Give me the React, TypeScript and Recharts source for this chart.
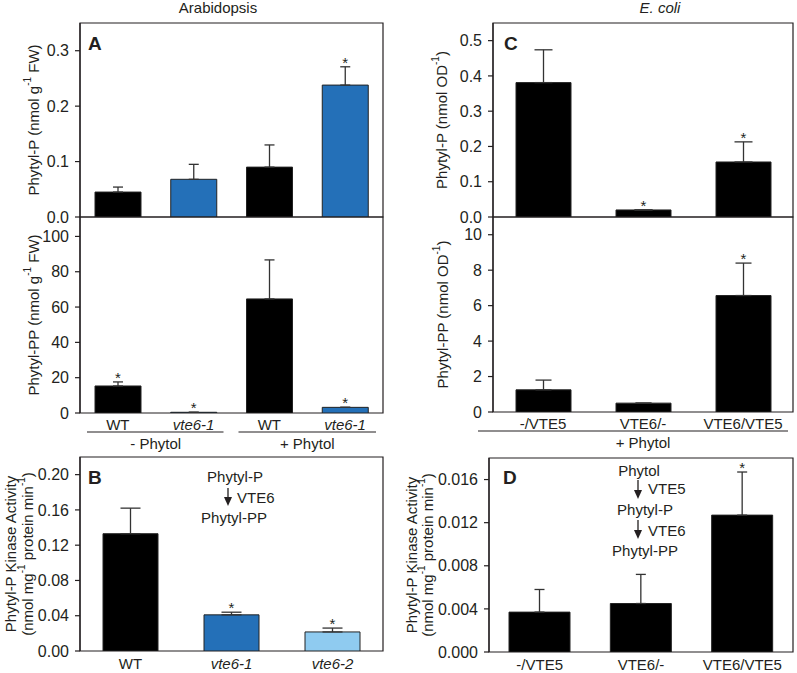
import React from 'react';
import { BarChart, Bar, XAxis, YAxis, ErrorBar, Cell, LabelList, ReferenceArea } from 'recharts';

const FONT = '"Liberation Sans", Arial, sans-serif';
const INK = '#231f20';
const BLACK = '#000000';
const BLUE = '#2470b8';
const LIGHT = '#8fcbf0';

// A: Arabidopsis leaves, with / without phytol feeding
const aCats = ['WT', 'vte6-1', 'WT', 'vte6-1'];
const aItalic = [false, true, false, true];
const aColors = [BLACK, BLUE, BLACK, BLUE];
const aPhytylP = [0.045, 0.068, 0.09, 0.238];
const aPhytylPErr = [0.009, 0.027, 0.04, 0.033];
const aPhytylPSig = [false, false, false, true];
const aPhytylPP = [15.3, 0.4, 64.6, 3.2];
const aPhytylPPErr = [2.3, 0, 22.1, 0];
const aPhytylPPSig = [true, true, false, true];

// B: kinase activity in Arabidopsis
const bCats = ['WT', 'vte6-1', 'vte6-2'];
const bItalic = [false, true, true];
const bColors = [BLACK, BLUE, LIGHT];
const bActivity = [0.133, 0.041, 0.0216];
const bActivityErr = [0.029, 0.003, 0.0044];
const bActivitySig = [false, true, true];

// C: E. coli strains fed phytol
const cCats = ['-/VTE5', 'VTE6/-', 'VTE6/VTE5'];
const cColors = [BLACK, BLACK, BLACK];
const cPhytylP = [0.381, 0.02, 0.156];
const cPhytylPErr = [0.093, 0, 0.057];
const cPhytylPSig = [false, true, true];
const cPhytylPP = [1.25, 0.5, 6.57];
const cPhytylPPErr = [0.55, 0, 1.83];
const cPhytylPPSig = [false, false, true];

// D: kinase activity in E. coli extracts
const dActivity = [0.0037, 0.0045, 0.0127];
const dActivityErr = [0.0021, 0.0027, 0.004];
const dActivitySig = [false, false, true];

type Row = { name: string; value: number; err: number[]; sig: boolean };
type Seg = { t: string; sup?: boolean };
type Group = { label: string; start: number; span: number; pad: [number, number] };

const makeRows = (cats: string[], vals: number[], errs: number[], sig: boolean[]): Row[] =>
  cats.map((name, i) => ({ name, value: vals[i], err: [0, errs[i]], sig: sig[i] }));

const CHART_W = 397;

type PanelProps = {
  rows: Row[];
  colors: string[];
  italic: boolean[];
  left: number;
  top: number;
  height: number;
  margin: { top: number; right: number; bottom: number };
  yWidth: number;
  domain: [number, number];
  ticks: number[];
  digits: number;
  barSize: number;
  cap: number;
  title: Seg[][];
  titleX: number[];
  xHeight?: number;
  labelDy?: number;
  groups?: Group[];
};

function segSpans(segs: Seg[]) {
  let raised = false;
  return segs.map((s, i) => {
    let dy: number | undefined;
    if (s.sup && !raised) {
      dy = -6;
      raised = true;
    } else if (!s.sup && raised) {
      dy = 6;
      raised = false;
    }
    return (
      <tspan key={'s' + i} dy={dy} fontSize={s.sup ? 10 : undefined}>
        {s.t}
      </tspan>
    );
  });
}

function Panel(p: PanelProps) {
  const halfBand = (CHART_W - p.yWidth - p.margin.right) / p.rows.length / 2;

  const titleContent = (props: any) => {
    const vb = props.viewBox;
    const cy = vb.y + vb.height / 2;
    return (
      <g>
        {p.title.map((line, i) => (
          <text
            key={i}
            transform={`translate(${vb.x + p.titleX[i]},${cy}) rotate(-90)`}
            textAnchor="middle"
            dominantBaseline="central"
            fontSize={15}
            fill={INK}
            fontFamily={FONT}
          >
            {segSpans(line)}
          </text>
        ))}
      </g>
    );
  };

  const catTick = (props: any) => {
    const { x, y, payload } = props;
    const i = payload.index;
    const g = p.groups?.find((gr) => gr.start === i);
    return (
      <g>
        <text
          x={x}
          y={y + (p.labelDy ?? 11)}
          textAnchor="middle"
          dominantBaseline="central"
          fontSize={15}
          fontStyle={p.italic[i] ? 'italic' : 'normal'}
          fill={INK}
          fontFamily={FONT}
        >
          {payload.value}
        </text>
        {g && (
          <>
            <line
              x1={x - halfBand + g.pad[0]}
              x2={x - halfBand + 2 * halfBand * g.span - g.pad[1]}
              y1={y + 19}
              y2={y + 19}
              stroke={INK}
              strokeWidth={1.2}
            />
            <text
              x={x - halfBand + halfBand * g.span}
              y={y + 30}
              textAnchor="middle"
              dominantBaseline="central"
              fontSize={15}
              fill={INK}
              fontFamily={FONT}
            >
              {g.label}
            </text>
          </>
        )}
      </g>
    );
  };

  const star = (props: any) => {
    const vb = props.viewBox ?? props;
    const r = p.rows[props.index];
    if (!r || !r.sig) return null;
    const perUnit = vb.height / r.value;
    const errTop = vb.y - r.err[1] * perUnit;
    return (
      <text x={vb.x + vb.width / 2} y={errTop + 1} textAnchor="middle" fontSize={15} fill={INK} fontFamily={FONT}>
        *
      </text>
    );
  };

  return (
    <div style={{ position: 'absolute', left: p.left, top: p.top }}>
      <BarChart
        width={CHART_W}
        height={p.height}
        data={p.rows}
        margin={{ top: p.margin.top, right: p.margin.right, bottom: p.margin.bottom, left: 0 }}
        barSize={p.barSize}
      >
        <XAxis
          dataKey="name"
          hide={p.xHeight === undefined}
          height={p.xHeight ?? 0}
          axisLine={false}
          tickLine={false}
          tickSize={0}
          tickMargin={0}
          interval={0}
          tick={catTick}
        />
        <YAxis
          type="number"
          domain={p.domain}
          ticks={p.ticks}
          interval={0}
          width={p.yWidth}
          allowDataOverflow
          axisLine={{ stroke: INK, strokeWidth: 1.2 }}
          tickLine={{ stroke: INK, strokeWidth: 1.2 }}
          tickSize={5}
          tickMargin={6}
          tick={{ fontSize: 16, fill: INK, fontFamily: FONT }}
          tickFormatter={(v: number) => v.toFixed(p.digits)}
          label={{ content: titleContent }}
        />
        <ReferenceArea
          y1={p.domain[0]}
          y2={p.domain[1]}
          fill="#ffffff"
          fillOpacity={0}
          stroke={INK}
          strokeWidth={1.2}
          ifOverflow="visible"
        />
        <Bar dataKey="value" stroke="#222" strokeWidth={1} isAnimationActive={false}>
          {p.rows.map((r, i) => (
            <Cell key={i} fill={p.colors[i]} />
          ))}
          <ErrorBar dataKey="err" direction="y" width={p.cap} stroke="#333" strokeWidth={1.3} />
          <LabelList dataKey="value" content={star} />
        </Bar>
      </BarChart>
    </div>
  );
}

const Arrow = ({ x, y1, y2 }: { x: number; y1: number; y2: number }) => (
  <g>
    <line x1={x} x2={x} y1={y1} y2={y2 - 7} stroke={INK} strokeWidth={1.3} />
    <polygon points={`${x - 4},${y2 - 9} ${x + 4},${y2 - 9} ${x},${y2}`} fill={INK} />
  </g>
);

const g1: Seg[] = [{ t: 'Phytyl-P (nmol g' }, { t: '-1', sup: true }, { t: ' FW)' }];
const g2: Seg[] = [{ t: 'Phytyl-PP (nmol g' }, { t: '-1', sup: true }, { t: ' FW)' }];
const k1: Seg[] = [{ t: 'Phytyl-P Kinase Activity' }];
const k2: Seg[] = [{ t: '(nmol mg' }, { t: '-1', sup: true }, { t: ' protein min' }, { t: '-1', sup: true }, { t: ')' }];
const o1: Seg[] = [{ t: 'Phytyl-P (nmol OD' }, { t: '-1', sup: true }, { t: ')' }];
const o2: Seg[] = [{ t: 'Phytyl-PP (nmol OD' }, { t: '-1', sup: true }, { t: ')' }];

export default function App() {
  const aTop = makeRows(aCats, aPhytylP, aPhytylPErr, aPhytylPSig);
  const aBot = makeRows(aCats, aPhytylPP, aPhytylPPErr, aPhytylPPSig);
  const bRows = makeRows(bCats, bActivity, bActivityErr, bActivitySig);
  const cTop = makeRows(cCats, cPhytylP, cPhytylPErr, cPhytylPSig);
  const cBot = makeRows(cCats, cPhytylPP, cPhytylPPErr, cPhytylPPSig);
  const dRows = makeRows(cCats, dActivity, dActivityErr, dActivitySig);
  const plain3 = [false, false, false];

  return (
    <div style={{ position: 'absolute', left: 0, top: 0, width: 797, height: 673, background: '#fff', fontFamily: FONT }}>
      <Panel
        rows={aTop} colors={aColors} italic={aItalic}
        left={0} top={0} height={232} margin={{ top: 23, right: 14, bottom: 15 }}
        yWidth={80} domain={[0, 0.35]} ticks={[0, 0.1, 0.2, 0.3]} digits={1}
        barSize={46} cap={5} title={[g1]} titleX={[33]}
      />
      <Panel
        rows={aBot} colors={aColors} italic={aItalic}
        left={0} top={200} height={253} margin={{ top: 17, right: 14, bottom: 0 }}
        yWidth={80} domain={[0, 111]} ticks={[0, 20, 40, 60, 80, 100]} digits={0}
        barSize={46} cap={5} title={[g2]} titleX={[33]} xHeight={40}
        groups={[
          { label: '- Phytol', start: 0, span: 2, pad: [7, 8] },
          { label: '+ Phytol', start: 2, span: 2, pad: [7, 7] },
        ]}
      />
      <Panel
        rows={bRows} colors={bColors} italic={bItalic}
        left={0} top={440} height={233} margin={{ top: 17, right: 14, bottom: 0 }}
        yWidth={80} domain={[0, 0.22]} ticks={[0, 0.04, 0.08, 0.12, 0.16, 0.2]} digits={2}
        barSize={55} cap={10} title={[k1, k2]} titleX={[10, 27]} xHeight={22} labelDy={12}
      />
      <Panel
        rows={cTop} colors={cColors} italic={plain3}
        left={400} top={0} height={232} margin={{ top: 23, right: 4, bottom: 15 }}
        yWidth={93} domain={[0, 0.55]} ticks={[0, 0.1, 0.2, 0.3, 0.4, 0.5]} digits={1}
        barSize={55} cap={9} title={[o1]} titleX={[41]}
      />
      <Panel
        rows={cBot} colors={cColors} italic={plain3}
        left={400} top={200} height={252} margin={{ top: 17, right: 4, bottom: 0 }}
        yWidth={93} domain={[0, 11]} ticks={[0, 2, 4, 6, 8, 10]} digits={0}
        barSize={55} cap={8} title={[o2]} titleX={[42]} xHeight={40}
        groups={[{ label: '+ Phytol', start: 0, span: 3, pad: [-15, 5] }]}
      />
      <Panel
        rows={dRows} colors={cColors} italic={plain3}
        left={400} top={440} height={233} margin={{ top: 18, right: 4, bottom: 0 }}
        yWidth={89} domain={[0, 0.018]} ticks={[0, 0.004, 0.008, 0.012, 0.016]} digits={3}
        barSize={61} cap={5} title={[k1, k2]} titleX={[11, 27]} xHeight={21} labelDy={12}
      />
      <svg width={797} height={673} style={{ position: 'absolute', left: 0, top: 0, pointerEvents: 'none' }} fontFamily={FONT}>
        <text x={218} y={13} textAnchor="middle" fontSize={15} fill={INK}>Arabidopsis</text>
        <text x={660} y={13} textAnchor="middle" fontSize={15} fontStyle="italic" fill={INK}>E. coli</text>
        <text x={88} y={50} fontSize={19} fontWeight="bold" fill={INK}>A</text>
        <text x={504} y={50} fontSize={19} fontWeight="bold" fill={INK}>C</text>
        <text x={88} y={484} fontSize={19} fontWeight="bold" fill={INK}>B</text>
        <text x={503} y={484} fontSize={19} fontWeight="bold" fill={INK}>D</text>

        <text x={235} y={476} textAnchor="middle" dominantBaseline="central" fontSize={15} fill={INK}>Phytyl-P</text>
        <Arrow x={228} y1={488} y2={506} />
        <text x={237} y={497} dominantBaseline="central" fontSize={15} fill={INK}>VTE6</text>
        <text x={234} y={517} textAnchor="middle" dominantBaseline="central" fontSize={15} fill={INK}>Phytyl-PP</text>

        <text x={639} y={470} textAnchor="middle" dominantBaseline="central" fontSize={15} fill={INK}>Phytol</text>
        <Arrow x={638} y1={480} y2={499} />
        <text x={648} y={488} dominantBaseline="central" fontSize={15} fill={INK}>VTE5</text>
        <text x={645} y={509} textAnchor="middle" dominantBaseline="central" fontSize={15} fill={INK}>Phytyl-P</text>
        <Arrow x={638} y1={520} y2={539} />
        <text x={648} y={530} dominantBaseline="central" fontSize={15} fill={INK}>VTE6</text>
        <text x={645} y={550} textAnchor="middle" dominantBaseline="central" fontSize={15} fill={INK}>Phytyl-PP</text>
      </svg>
    </div>
  );
}
